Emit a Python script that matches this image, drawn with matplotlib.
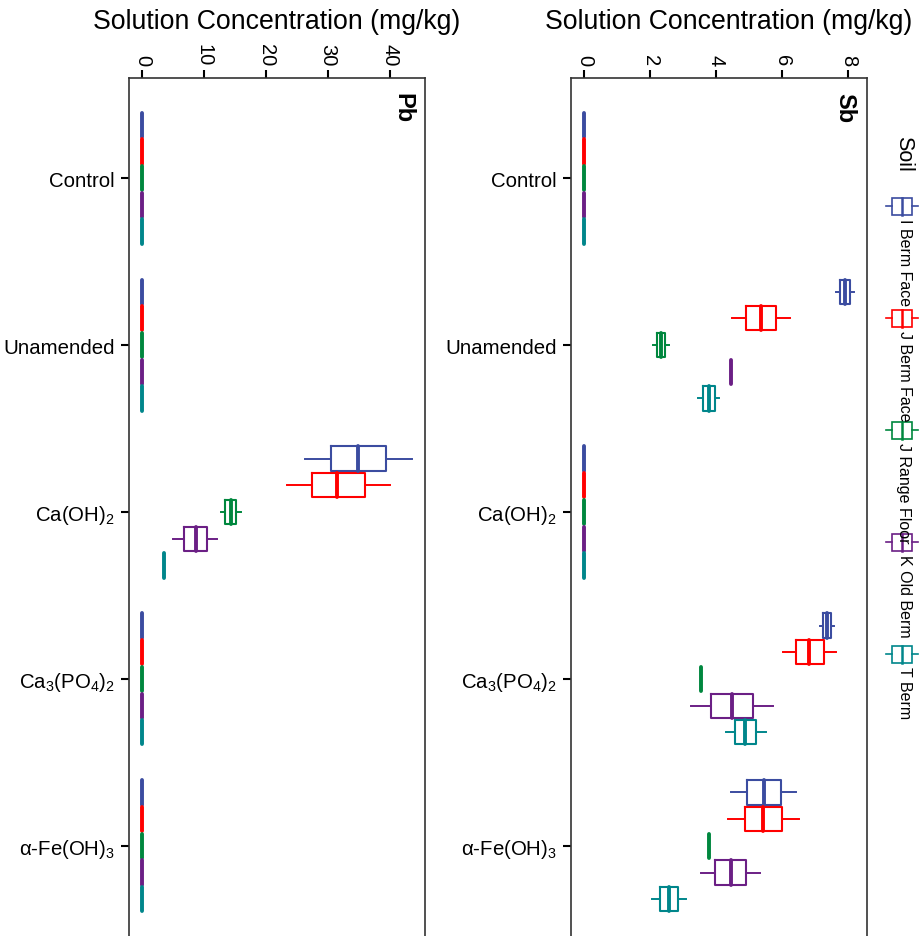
import numpy as np
import matplotlib
matplotlib.use("Agg")
import matplotlib.pyplot as plt
from matplotlib.patches import Rectangle

plt.rcParams['font.family'] = ['Liberation Sans', 'DejaVu Sans']
plt.rcParams['mathtext.fontset'] = 'custom'
plt.rcParams['mathtext.rm'] = 'Liberation Sans'
plt.rcParams['mathtext.it'] = 'Liberation Sans'
plt.rcParams['mathtext.bf'] = 'Liberation Sans:bold'

# donnees (ligne = traitement, colonne = sol)
treatments = ["Control", "Unamended", r"Ca(OH)$_2$", r"Ca$_3$(PO$_4$)$_2$", r"α-Fe(OH)$_3$"]
soils = ["I Berm Face", "J Berm Face", "J Range Floor", "K Old Berm", "T Berm"]
colors = ["#3B4CA0", "#FF0000", "#00873E", "#6B1F85", "#00868B"]

pb_low = [[0, 0, 0, 0, 0], [0, 0, 0, 0, 0], [26.2, 23.3, 12.7, 5.0, 3.5], [0, 0, 0, 0, 0], [0, 0, 0, 0, 0]]
pb_q1 = [[0, 0, 0, 0, 0], [0, 0, 0, 0, 0], [30.5, 27.4, 13.3, 6.7, 3.5], [0, 0, 0, 0, 0], [0, 0, 0, 0, 0]]
pb_med = [[0, 0, 0, 0, 0], [0, 0, 0, 0, 0], [34.8, 31.5, 14.3, 8.7, 3.5], [0, 0, 0, 0, 0], [0, 0, 0, 0, 0]]
pb_q3 = [[0, 0, 0, 0, 0], [0, 0, 0, 0, 0], [39.3, 35.9, 15.1, 10.4, 3.5], [0, 0, 0, 0, 0], [0, 0, 0, 0, 0]]
pb_high = [[0, 0, 0, 0, 0], [0, 0, 0, 0, 0], [43.5, 40.0, 15.9, 12.0, 3.5], [0, 0, 0, 0, 0], [0, 0, 0, 0, 0]]

sb_low = [[0, 0, 0, 0, 0], [7.64, 4.47, 2.08, 4.44, 3.44], [0, 0, 0, 0, 0],
          [7.13, 6.01, 3.53, 3.23, 4.29], [4.44, 4.35, 3.77, 3.53, 2.05]]
sb_q1 = [[0, 0, 0, 0, 0], [7.76, 4.89, 2.20, 4.44, 3.59], [0, 0, 0, 0, 0],
         [7.22, 6.40, 3.53, 3.84, 4.58], [4.92, 4.86, 3.77, 3.97, 2.30]]
sb_med = [[0, 0, 0, 0, 0], [7.89, 5.35, 2.33, 4.44, 3.77], [0, 0, 0, 0, 0],
          [7.34, 6.80, 3.53, 4.47, 4.86], [5.44, 5.41, 3.77, 4.44, 2.57]]
sb_q3 = [[0, 0, 0, 0, 0], [8.04, 5.80, 2.45, 4.44, 3.95], [0, 0, 0, 0, 0],
         [7.49, 7.25, 3.53, 5.11, 5.20], [5.95, 5.98, 3.77, 4.89, 2.84]]
sb_high = [[0, 0, 0, 0, 0], [8.16, 6.22, 2.57, 4.44, 4.08], [0, 0, 0, 0, 0],
           [7.58, 7.64, 3.53, 5.71, 5.50], [6.43, 6.50, 3.77, 5.32, 3.08]]

pb_ticks = [0, 10, 20, 30, 40]
sb_ticks = [0, 2, 4, 6, 8]

W, H = 924, 937
fig = plt.figure(figsize=(W / 100, H / 100), dpi=100)


def panel(left, low, q1, med, q3, high, ticks, xlim, name, title_x):
    # axe qui depasse en bas de la figure (comme l'image d'origine, coupee)
    ax = fig.add_axes([left / W, (937 - 947) / H, 296 / W, 868 / H])
    for i in range(len(treatments)):
        for j in range(len(soils)):
            st = [dict(whislo=low[i][j], q1=q1[i][j], med=med[i][j], q3=q3[i][j],
                       whishi=high[i][j], fliers=[])]
            c = colors[j]
            ax.bxp(st, positions=[i + 1 + (j - 2) * 0.16], widths=0.145, vert=False,
                   showcaps=False, showfliers=False,
                   boxprops=dict(color=c, lw=1.5),
                   whiskerprops=dict(color=c, lw=1.4),
                   medianprops=dict(color=c, lw=2.8, solid_capstyle='round'))
    ax.set_ylim(5.6, 0.4)
    ax.set_xlim(*xlim)
    ax.set_yticks(range(1, 6))
    ax.set_yticklabels(treatments, fontsize=14.7)
    ax.set_xticks(ticks)
    ax.set_xticklabels([str(t) for t in ticks], rotation=-90, fontsize=14.5)
    ax.xaxis.tick_top()
    ax.xaxis.set_label_position('top')
    ax.set_xlabel("Solution Concentration (mg/kg)", fontsize=19.2)
    ax.xaxis.set_label_coords(title_x, 1 + 57 / 868)
    ax.xaxis.label.set_va('center')
    ax.tick_params(axis='both', length=6, width=1.5, color='black', pad=3)
    ax.tick_params(axis='y', right=False, pad=4)
    ax.tick_params(axis='x', bottom=False)
    for s in ax.spines.values():
        s.set_color('#333333')
        s.set_linewidth(1.2)
    ax.text(0.926, 0.984, name, transform=ax.transAxes, rotation=-90,
            ha='center', va='top', fontsize=17, fontweight='bold')
    return ax


panel(129, pb_low, pb_q1, pb_med, pb_q3, pb_high, pb_ticks, (-2.17, 45.67), "Pb", 0.5)
panel(571, sb_low, sb_q1, sb_med, sb_q3, sb_high, sb_ticks, (-0.408, 8.568), "Sb", 0.534)

# legende tournee
lax = fig.add_axes([0, 0, 1, 1], facecolor='none')
lax.set_xlim(0, W)
lax.set_ylim(H, 0)
lax.axis('off')
lax.text(904, 136, "Soil", rotation=-90, ha='center', va='top', fontsize=15.5)
for j, soil in enumerate(soils):
    yc = 207 + 112 * j
    c = colors[j]
    lax.plot([886, 892], [yc, yc], color=c, lw=1.2)
    lax.plot([912, 918], [yc, yc], color=c, lw=1.2)
    lax.add_patch(Rectangle((892, yc - 8.5), 20, 17, fill=False, edgecolor=c, lw=1.2))
    lax.plot([902, 902], [yc - 8.5, yc + 8.5], color=c, lw=1.8)
    lax.text(904, yc + 12, soil, rotation=-90, ha='center', va='top', fontsize=11.5)

fig.savefig("out.png", dpi=100)
